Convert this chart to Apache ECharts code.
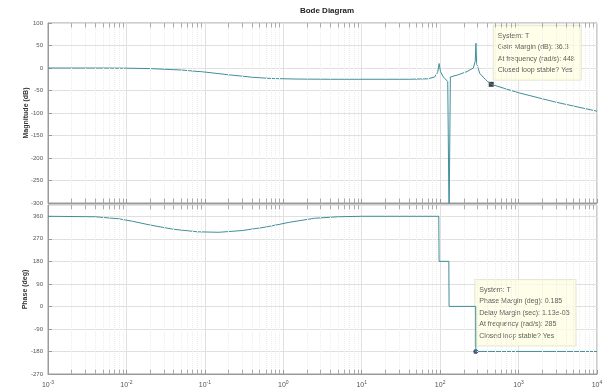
<!DOCTYPE html>
<html>
<head>
<meta charset="utf-8">
<script src="https://cdn.jsdelivr.net/npm/echarts@6/dist/echarts.min.js"></script>
<style>
  html, body { margin: 0; padding: 0; background: #fff; }
  #chart { width: 607px; height: 390px; }
</style>
</head>
<body>
<div id="chart"></div>
<script>
// frequency axis (rad/s), decades shown on the x axis
const decades = [-3, -2, -1, 0, 1, 2, 3, 4];

// magnitude curve: [rad/s, dB]
const magPoints = [
  [0.001, 0], [0.005, -0.1], [0.01, -0.4], [0.02, -1.3], [0.05, -4.5],
  [0.1, -9], [0.2, -15], [0.4, -20.5], [0.7, -23.3], [1.5, -24.6],
  [4, -25], [40, -25], [70, -24], [85, -20], [93, -10], [97, 10],
  [101, -8], [110, -20], [125, -30], [130, -340], [135, -20], [170, -15],
  [220, -8], [265, 0], [280, 15], [286, 55], [292, 10], [320, -12],
  [380, -26], [448, -36.3], [1000, -55], [3000, -76], [10000, -96]
];

// phase curve: [rad/s, deg]
const phasePoints = [
  [0.001, 360], [0.004, 358], [0.008, 350], [0.012, 340], [0.02, 325],
  [0.04, 308], [0.08, 298], [0.15, 296], [0.3, 303], [0.6, 317],
  [1.2, 336], [2.5, 352], [5, 358], [10, 360], [96, 360], [97, 180],
  [129, 180], [130, 0], [284, 0], [285, -180], [10000, -180]
];

// data tips
const gainTip = [448, -36.3];
const gainTipText = ['System: T', 'Gain Margin (dB): 36.3', 'At frequency (rad/s): 448', 'Closed loop stable? Yes'];
const phaseTip = [285, -180];
const phaseTipText = ['System: T', 'Phase Margin (deg): 0.185', 'Delay Margin (sec): 1.13e-05', 'At frequency (rad/s): 285', 'Closed loop stable? Yes'];

const lineColor = '#3f8f9a';
const gridColor = '#e0e0e0';
const axisColor = '#9a9a9a';
const labelColor = '#555';

// minor log grid positions (2..9 in each decade)
const minorFreqs = [];
decades.slice(0, -1).forEach(d => {
  for (let m = 2; m <= 9; m++) minorFreqs.push(m * Math.pow(10, d));
});

const chart = echarts.init(document.getElementById('chart'));

function xAxisFor(gridIndex, showLabels) {
  return {
    type: 'log',
    logBase: 10,
    gridIndex,
    min: 0.001,
    max: 10000,
    splitNumber: 7,
    axisLine: { show: true, onZero: false, lineStyle: { color: axisColor, width: 1 } },
    axisTick: { show: true, inside: true, length: 4, lineStyle: { color: axisColor } },
    splitLine: { show: true, lineStyle: { color: gridColor, width: 1 } },
    axisLabel: showLabels ? {
      show: true,
      margin: 6,
      formatter: v => '{b|10}{s|' + Math.round(Math.log10(v)) + '}',
      rich: {
        b: { fontSize: 7, color: labelColor, fontFamily: 'Liberation Sans' },
        s: { fontSize: 5, color: labelColor, verticalAlign: 'top', padding: [0, 0, 5, 0], fontFamily: 'Liberation Sans' }
      }
    } : { show: false }
  };
}

function minorGrid(ymin, ymax, tick) {
  const data = [];
  minorFreqs.forEach(f => {
    data.push([{ coord: [f, ymin], lineStyle: { type: 'dotted', color: '#ededed' } }, { coord: [f, ymax] }]);
    data.push([{ coord: [f, ymax], lineStyle: { type: 'solid', color: '#aaa' } }, { coord: [f, ymax - tick] }]);
    data.push([{ coord: [f, ymin], lineStyle: { type: 'solid', color: '#aaa' } }, { coord: [f, ymin + tick] }]);
  });
  return {
    silent: true,
    symbol: ['none', 'none'],
    label: { show: false },
    lineStyle: { width: 1 },
    data
  };
}

function tipLabel(lines, pos) {
  return {
    show: true,
    position: pos,
    formatter: lines.join('\n'),
    fontSize: 7,
    lineHeight: 11.5,
    color: '#333',
    fontFamily: 'Liberation Sans',
    backgroundColor: '#ffffe4',
    borderColor: '#e2e2c8',
    borderWidth: 1,
    padding: [4, 6, 4, 4],
    align: 'left',
    verticalAlign: 'top'
  };
}

const option = {
  animation: false,
  backgroundColor: '#ffffff',
  title: {
    text: 'Bode Diagram',
    left: 322,
    textAlign: 'center',
    top: 2,
    textStyle: { fontSize: 8, fontWeight: 'bold', color: '#222', fontFamily: 'Liberation Sans' }
  },
  grid: [
    { left: 48, right: 10, top: 23, height: 180, show: true, borderColor: axisColor, borderWidth: 1 },
    { left: 48, right: 10, top: 205, height: 169, show: true, borderColor: axisColor, borderWidth: 1 }
  ],
  xAxis: [xAxisFor(0, false), xAxisFor(1, true)],
  yAxis: [
    {
      type: 'value', gridIndex: 0, min: -300, max: 100, interval: 50,
      name: 'Magnitude (dB)', nameLocation: 'middle', nameGap: 18, nameMoveOverlap: false,
      nameTextStyle: { fontSize: 7, fontWeight: 'bold', color: '#333', fontFamily: 'Liberation Sans' },
      axisLine: { show: true, lineStyle: { color: axisColor } },
      axisTick: { show: true, inside: true, length: 4, lineStyle: { color: axisColor } },
      splitLine: { show: true, lineStyle: { color: gridColor } },
      axisLabel: { fontSize: 6, color: labelColor, margin: 5, fontFamily: 'Liberation Sans' }
    },
    {
      type: 'value', gridIndex: 1, min: -270, max: 405, interval: 90,
      name: 'Phase (deg)', nameLocation: 'middle', nameGap: 19, nameMoveOverlap: false,
      nameTextStyle: { fontSize: 7, fontWeight: 'bold', color: '#333', fontFamily: 'Liberation Sans' },
      axisLine: { show: true, lineStyle: { color: axisColor } },
      axisTick: { show: true, inside: true, length: 4, lineStyle: { color: axisColor } },
      splitLine: { show: true, lineStyle: { color: gridColor } },
      axisLabel: { fontSize: 6, color: labelColor, margin: 5, showMaxLabel: false, fontFamily: 'Liberation Sans' }
    }
  ],
  series: [
    {
      type: 'line', xAxisIndex: 0, yAxisIndex: 0, data: magPoints,
      showSymbol: false, clip: true,
      lineStyle: { color: lineColor, width: 1 },
      markLine: minorGrid(-300, 100, 10)
    },
    {
      type: 'line', xAxisIndex: 1, yAxisIndex: 1, data: phasePoints,
      showSymbol: false, clip: true,
      lineStyle: { color: lineColor, width: 1 },
      markLine: minorGrid(-270, 405, 17)
    },
    {
      type: 'scatter', xAxisIndex: 0, yAxisIndex: 0, data: [gainTip],
      symbol: 'rect', symbolSize: 5, itemStyle: { color: '#111' },
      label: tipLabel(gainTipText, [5, -56])
    },
    {
      type: 'scatter', xAxisIndex: 1, yAxisIndex: 1, data: [phaseTip],
      symbol: 'circle', symbolSize: 5, itemStyle: { color: '#1f2f6a' },
      label: tipLabel(phaseTipText, [2, -69])
    }
  ]
};

chart.setOption(option);
</script>
</body>
</html>
